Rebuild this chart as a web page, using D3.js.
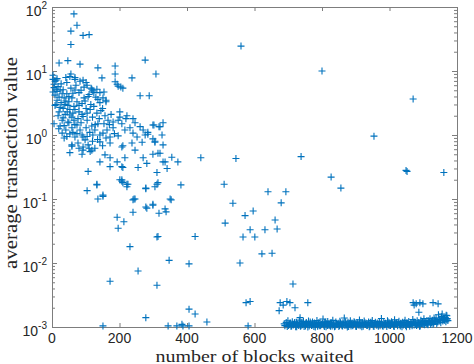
<!DOCTYPE html>
<html>
<head>
<meta charset="utf-8">
<script src="https://cdn.jsdelivr.net/npm/d3@7"></script>
<style>
  body { margin: 0; background: #fff; }
  text { fill: #262626; }
</style>
</head>
<body>
<svg id="chart"></svg>
<script>
// tick labels
const xTickValues = [0, 200, 400, 600, 800, 1000, 1200];
const yExponents = [-3, -2, -1, 0, 1, 2];

// [blocks waited, average transaction value]
const highValues = [
  [65,78],[74,52],[56,42],[92,36],[110,37],[56,26],[21,13.3],[47,14.5],[83,12.8],[136,11.2],
  [187,12],[187,9.0],[148,7.8],[237,7.8],[276,14.8],[308,9.0],[261,4.1],[288,4.1],[196,5.8],
  [210,5.4],[187,6.8],[560,24.5],[800,10],[1070,3.65],[954,0.96],[827,0.22],[1049,0.28],
  [1052,0.27],[1161,0.26],[856,0.148],[441,0.44],[545,0.43],[738,0.46],[510,0.17]
];

const mainCluster = [
  [3,7.4],[9,6.9],[15,7.6],[6,6.2],[18,5.7],[12,5.2],[3,4.7],[24,5.05],[9,4.2],[21,3.9],
  [30,4.4],[15,3.5],[36,3.8],[27,3.2],[41,3.4],[9,2.9],[33,2.6],[47,2.9],[21,2.3],[39,2.1],
  [53,2.5],[59,1.9],[30,1.7],[47,1.6],[65,1.7],[74,1.43],[24,1.38],[41,1.2],[59,1.3],[83,1.2],
  [53,1.04],[68,0.93],[89,1.0],[98,0.84],[36,0.9],[77,0.75],[107,0.7],[92,0.58],[113,0.55],
  [127,0.62],[59,0.67],[53,0.53],
  [41,7.9],[53,8.2],[68,7.4],[83,6.9],[101,6.6],[116,5.4],[121,4.9],[133,5.2],[142,4.6],
  [154,4.7],[160,3.5],[136,3.6],[107,4.0],[95,3.8],[80,4.6],[68,5.05],[56,5.4],[44,4.4],
  [59,3.8],[74,3.3],[89,3.1],[101,2.6],[113,2.5],[124,2.8],[133,2.2],[145,2.4],[157,2.0],
  [166,1.7],[175,2.1],[181,1.6],[154,1.5],[136,1.5],[118,1.38],[104,1.7],[92,1.95],[80,2.3],
  [68,2.5],[53,2.05],[127,1.2],[142,1.0],[163,1.2],[181,1.3],[196,1.7],[207,1.5],[216,1.2],
  [231,1.3],[240,1.8],[222,2.0],[201,2.3],
  [3,8.6],[12,7.2],[56,9.0],[68,7.9],[92,7.2],[104,6.0],[118,5.2],[124,4.6],[193,6.2],
  [204,5.6],[151,3.8],[160,3.3],[142,3.2],
  [201,1.9],[219,1.8],[246,1.55],[261,1.35],[270,1.2],[284,1.1],[299,1.43],[329,1.55],
  [317,1.35],[326,1.0],[240,1.07],[252,0.93],[276,1.0],[299,0.87],
  [30,1.07],[62,1.1],[92,0.93],[121,1.0],[151,1.07],[172,0.93],[196,0.97],[59,0.7],[92,0.65],
  [118,0.58],[142,0.78],[172,0.75],[207,0.65],[89,0.5],[157,0.49],[172,0.44],[142,0.38],
  [193,0.38],[172,0.32],[207,0.32],[107,0.27],[201,0.2],[210,0.18],[133,0.17],[104,0.135],
  [151,0.115],[136,0.1],
  [284,1.03],[210,0.68],[237,0.75],[267,0.77],[305,0.77],[329,0.7],[246,0.58],[299,0.5],
  [320,0.52],[355,0.45],[216,0.44],[270,0.44],[329,0.38],[373,0.38],[210,0.31],[255,0.31],
  [281,0.36],[341,0.3],[311,0.26],[311,0.17],[314,0.18],[207,0.2],[222,0.17],[222,0.155],
  [278,0.145],[305,0.155],[382,0.166],[243,0.1],[350,0.1],[278,0.075],[299,0.083],[335,0.07],
  [302,1.43],[320,1.35],[305,0.8],[314,0.52],[335,0.38]
];

// extra points in the densest part of the cluster
const denseCore = [
  [6,5.5],[15,4.8],[27,6.3],[33,5.1],[44,6.6],[50,4.0],[62,4.5],[71,6.0],[86,5.0],[95,5.6],
  [110,4.3],[12,3.0],[24,2.7],[38,3.0],[50,3.3],[65,2.8],[80,2.9],[98,3.4],[115,3.0],[130,3.9],
  [18,2.0],[33,1.85],[45,2.3],[62,2.2],[77,1.8],[89,2.1],[104,2.2],[120,1.9],[140,1.8],[150,2.6],
  [6,1.5],[20,1.25],[36,1.4],[50,1.55],[68,1.45],[86,1.55],[101,1.3],[112,1.1],[128,1.45],[170,1.45],
  [44,0.95],[74,1.05],[104,0.95],[120,0.8],[135,0.85],[160,0.9],[185,1.05],[80,0.62],[110,0.62],[150,0.68]
];

const lowScatter = [
  [133,0.166],[151,0.11],[193,0.052],[196,0.035],[213,0.044],[231,0.018],[240,0.062],
  [246,0.1],[172,0.0052],[255,0.0075],[278,0.148],[281,0.072],[299,0.08],[311,0.0045],
  [311,0.0255],[278,0.0014],[151,0.00104],[207,0.19],[225,0.17],
  [317,0.06],[338,0.063],[314,0.026],[424,0.026],[347,0.011],[406,0.0097],[406,0.0019],
  [424,0.0016],[344,0.00104],[370,0.00104],[385,0.0011],[388,0.00104],[406,0.00104],
  [353,0.097],[240,0.097],[459,0.0012],[581,0.00104]
];

const midScatter = [
  [536,0.086],[513,0.042],[640,0.13],[693,0.13],[679,0.087],[572,0.055],[596,0.065],
  [661,0.047],[667,0.034],[587,0.033],[631,0.033],[566,0.0255],[601,0.0255],[622,0.0139],
  [652,0.0142],[557,0.01],[714,0.0047],[575,0.0024],[587,0.0025],[676,0.0024],[696,0.0025],
  [685,0.0022],[705,0.0024],[673,0.0018],[720,0.002],[758,0.0024],[735,0.0014],
  [1070,0.0024],[1079,0.0023],[1090,0.0024],[1099,0.0023],[1129,0.0024],[1144,0.0023],
  [1087,0.0017],[1170,0.0015],[1073,0.0022]
];

// dense band just above 1e-3
const bandBlocks = [
  688,690,694,697,699,703,706,710,712,715,
  718,722,724,727,731,733,736,740,742,745,
  749,751,754,758,760,763,767,769,772,776,
  778,781,785,787,790,794,796,799,803,805,
  808,812,814,817,821,823,826,830,832,835,
  839,841,844,848,850,853,857,859,862,866,
  868,871,875,877,880,884,886,889,893,895,
  898,902,904,907,911,913,916,920,922,925,
  929,931,934,938,940,943,947,949,952,956,
  958,961,965,967,970,974,976,979,983,985,
  988,992,994,997,1001,1003,1006,1010,1012,1015,
  1019,1021,1024,1028,1030,1033,1037,1039,1042,1046,
  1048,1051,1055,1057,1060,1064,1066,1069,1073,1075,
  1078,1082,1084,1087,1091,1093,1096,1100,1102,1105,
  1109,1111,1114,1118,1120,1123,1127,1129,1132,1136,
  1138,1141,1145,1147,1150,1154,1156,1159,1163,1165,
  1168,1171
];
const bandValues = [
  1.12e-3,1.05e-3,1.18e-3,1.02e-3,1.25e-3,1.09e-3,1.15e-3,1.04e-3,1.21e-3,1.07e-3,
  1.13e-3,1.01e-3,1.19e-3,1.10e-3,1.06e-3,1.28e-3,1.03e-3,1.16e-3,1.08e-3,1.22e-3,
  1.11e-3,1.04e-3,1.17e-3,1.00e-3,1.24e-3,1.09e-3,1.14e-3,1.06e-3,1.20e-3,1.02e-3,
  1.15e-3,1.08e-3,1.26e-3,1.03e-3,1.12e-3,1.19e-3,1.05e-3,1.10e-3,1.33e-3,1.07e-3,
  1.18e-3,1.01e-3,1.13e-3,1.22e-3,1.06e-3,1.09e-3,1.16e-3,1.04e-3,1.27e-3,1.11e-3,
  1.03e-3,1.20e-3,1.08e-3,1.14e-3,1.02e-3,1.23e-3,1.10e-3,1.05e-3,1.17e-3,1.38e-3,
  1.06e-3,1.12e-3,1.00e-3,1.19e-3,1.09e-3,1.25e-3,1.04e-3,1.15e-3,1.08e-3,1.21e-3,
  1.13e-3,1.02e-3,1.18e-3,1.07e-3,1.29e-3,1.05e-3,1.11e-3,1.16e-3,1.03e-3,1.24e-3,
  1.09e-3,1.14e-3,1.06e-3,1.20e-3,1.01e-3,1.17e-3,1.10e-3,1.26e-3,1.04e-3,1.12e-3,
  1.19e-3,1.07e-3,1.15e-3,1.03e-3,1.22e-3,1.11e-3,1.36e-3,1.05e-3,1.18e-3,1.08e-3,
  1.14e-3,1.02e-3,1.25e-3,1.09e-3,1.16e-3,1.06e-3,1.21e-3,1.12e-3,1.04e-3,1.30e-3,
  1.10e-3,1.17e-3,1.05e-3,1.23e-3,1.08e-3,1.14e-3,1.01e-3,1.19e-3,1.11e-3,1.27e-3,
  1.06e-3,1.15e-3,1.09e-3,1.22e-3,1.03e-3,1.18e-3,1.12e-3,1.31e-3,1.07e-3,1.20e-3,
  1.13e-3,1.25e-3,1.08e-3,1.17e-3,1.04e-3,1.28e-3,1.14e-3,1.10e-3,1.35e-3,1.19e-3,
  1.12e-3,1.26e-3,1.08e-3,1.21e-3,1.35e-3,1.15e-3,1.28e-3,1.10e-3,1.38e-3,1.22e-3,
  1.38e-3,1.22e-3,1.55e-3,1.31e-3,1.26e-3,1.45e-3,1.60e-3,1.34e-3,1.28e-3,1.40e-3,
  1.52e-3,1.36e-3
];

// second layer of the band
const bandBlocks2 = [
  701,705,708,714,719,725,729,734,738,744,
  747,753,757,762,765,771,774,780,783,789,
  792,797,801,807,810,816,819,825,828,834,
  837,843,846,852,855,861,864,870,873,879,
  882,887,891,897,900,906,909,915,918,924,
  927,933,936,942,945,951,954,960,963,969,
  972,977,981,987,990,996,999,1005,1008,1014,
  1017,1023,1026,1032,1035,1041,1044,1050,1053,1059,
  1062,1067,1071,1077,1080,1086,1089,1095,1098,1104,
  1107,1113,1116,1122,1125,1131,1134,1140,1143,1149,
  1152,1158,1161,1167,1170,1173
];
const bandValues2 = [
  1.06e-3,1.14e-3,1.03e-3,1.10e-3,1.18e-3,1.01e-3,1.08e-3,1.15e-3,1.05e-3,1.12e-3,
  1.02e-3,1.16e-3,1.09e-3,1.04e-3,1.20e-3,1.07e-3,1.13e-3,1.00e-3,1.11e-3,1.17e-3,
  1.05e-3,1.09e-3,1.14e-3,1.02e-3,1.19e-3,1.06e-3,1.12e-3,1.03e-3,1.15e-3,1.08e-3,
  1.01e-3,1.13e-3,1.10e-3,1.06e-3,1.17e-3,1.04e-3,1.11e-3,1.21e-3,1.07e-3,1.02e-3,
  1.14e-3,1.09e-3,1.05e-3,1.18e-3,1.03e-3,1.12e-3,1.08e-3,1.15e-3,1.01e-3,1.10e-3,
  1.16e-3,1.06e-3,1.13e-3,1.04e-3,1.19e-3,1.09e-3,1.02e-3,1.14e-3,1.07e-3,1.11e-3,
  1.05e-3,1.17e-3,1.03e-3,1.12e-3,1.08e-3,1.20e-3,1.06e-3,1.10e-3,1.15e-3,1.02e-3,
  1.13e-3,1.09e-3,1.18e-3,1.04e-3,1.11e-3,1.07e-3,1.16e-3,1.01e-3,1.14e-3,1.08e-3,
  1.12e-3,1.05e-3,1.19e-3,1.10e-3,1.06e-3,1.15e-3,1.03e-3,1.13e-3,1.22e-3,1.08e-3,
  1.16e-3,1.11e-3,1.25e-3,1.09e-3,1.18e-3,1.14e-3,1.28e-3,1.12e-3,1.20e-3,1.32e-3,
  1.17e-3,1.24e-3,1.38e-3,1.21e-3,1.30e-3,1.26e-3
];

class LogScatter {
  constructor(_config, _data) {
    this.config = {
      parentElement: _config.parentElement,
      containerWidth: _config.containerWidth || 474,
      containerHeight: _config.containerHeight || 364,
      margin: _config.margin || {top: 7, right: 17, bottom: 37, left: 52}
    };
    this.data = _data;
    this.initVis();
  }

  initVis() {
    let vis = this;
    vis.width = vis.config.containerWidth - vis.config.margin.left - vis.config.margin.right;
    vis.height = vis.config.containerHeight - vis.config.margin.top - vis.config.margin.bottom;

    vis.xScale = d3.scaleLinear().domain([0, 1200]).range([0, vis.width]);
    vis.yScale = d3.scaleLog().domain([1e-3, 1e2]).range([vis.height, 0]);

    vis.svg = d3.select(vis.config.parentElement)
      .attr('width', vis.config.containerWidth)
      .attr('height', vis.config.containerHeight);

    vis.chart = vis.svg.append('g')
      .attr('transform', `translate(${vis.config.margin.left},${vis.config.margin.top})`);
  }

  renderVis() {
    let vis = this;
    const axisColor = '#7d7d7d';
    const majors = yExponents.map(e => Math.pow(10, e));
    const minors = [];
    yExponents.slice(0, -1).forEach(e => {
      for (let m = 2; m <= 9; m++) minors.push(m * Math.pow(10, e));
    });

    // ticks (inside, MATLAB style) on all four sides
    const axes = [
      {axis: d3.axisBottom(vis.xScale).tickValues(xTickValues).tickSize(-4), t: `translate(0,${vis.height})`},
      {axis: d3.axisTop(vis.xScale).tickValues(xTickValues).tickSize(-4), t: 'translate(0,0)'},
      {axis: d3.axisLeft(vis.yScale).tickValues(majors).tickSize(-5), t: 'translate(0,0)'},
      {axis: d3.axisRight(vis.yScale).tickValues(majors).tickSize(-5), t: `translate(${vis.width},0)`},
      {axis: d3.axisLeft(vis.yScale).tickValues(minors).tickSize(-3), t: 'translate(0,0)'},
      {axis: d3.axisRight(vis.yScale).tickValues(minors).tickSize(-3), t: `translate(${vis.width},0)`}
    ];
    axes.forEach(a => {
      vis.chart.append('g')
        .attr('transform', a.t)
        .call(a.axis.tickFormat(''))
        .call(g => g.selectAll('line').attr('stroke', axisColor))
        .call(g => g.select('.domain').attr('stroke', axisColor));
    });

    // x tick labels
    vis.chart.append('g').selectAll('text')
      .data(xTickValues)
      .join('text')
      .attr('x', d => vis.xScale(d))
      .attr('y', vis.height + 16)
      .attr('text-anchor', 'middle')
      .style('font', '14px "Liberation Sans", Arial, sans-serif')
      .text(d => d);

    // y tick labels 10^n
    const yLab = vis.chart.append('g').selectAll('text')
      .data(yExponents)
      .join('text')
      .attr('x', -5)
      .attr('y', d => vis.yScale(Math.pow(10, d)) + 9)
      .attr('text-anchor', 'end')
      .style('font', '14px "Liberation Sans", Arial, sans-serif');
    yLab.append('tspan').text('10');
    yLab.append('tspan')
      .attr('dy', -7)
      .style('font-size', '10px')
      .text(d => d);

    // axis titles
    vis.svg.append('text')
      .attr('x', vis.config.margin.left + vis.width / 2)
      .attr('y', 362)
      .attr('text-anchor', 'middle')
      .attr('textLength', 198)
      .attr('lengthAdjust', 'spacingAndGlyphs')
      .style('font', '17px "Liberation Serif", "DejaVu Serif", serif')
      .text('number of blocks waited');

    vis.svg.append('text')
      .attr('transform', `translate(17,${vis.config.margin.top + vis.height / 2 - 4}) rotate(-90)`)
      .attr('text-anchor', 'middle')
      .attr('textLength', 212)
      .attr('lengthAdjust', 'spacingAndGlyphs')
      .style('font', '19px "Liberation Serif", "DejaVu Serif", serif')
      .text('average transaction value');

    // plus markers
    vis.chart.append('g').selectAll('.point')
      .data(vis.data)
      .join('path')
      .attr('class', 'point')
      .attr('transform', d => `translate(${vis.xScale(d[0])},${vis.yScale(d[1])})`)
      .attr('d', 'M-3.5,0H3.5M0,-3.5V3.5')
      .attr('fill', 'none')
      .attr('stroke', '#0072BD')
      .attr('stroke-width', 1.1);
  }
}

const allPoints = [
  ...highValues,
  ...mainCluster,
  ...denseCore,
  ...lowScatter,
  ...midScatter,
  ...bandBlocks.map((b, i) => [b, bandValues[i]]),
  ...bandBlocks2.map((b, i) => [b, bandValues2[i]])
];

const plot = new LogScatter({parentElement: '#chart'}, allPoints);
plot.renderVis();
</script>
</body>
</html>
